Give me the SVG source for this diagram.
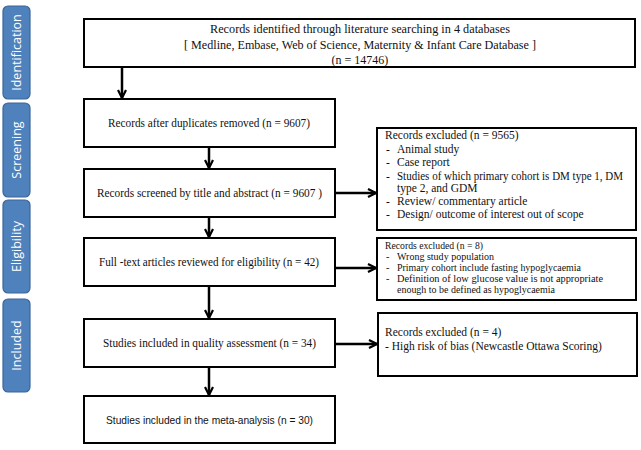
<svg xmlns="http://www.w3.org/2000/svg" width="641" height="450" viewBox="0 0 641 450">
<defs>
<style>
.phase{fill:#4F81BD;stroke:#3B6699;stroke-width:1.2}
.ph{fill:#fff;font-family:"Open Sans","Liberation Sans",sans-serif;font-size:12.5px;text-anchor:middle}
.box{fill:#fff;stroke:#000;stroke-width:2}
.t{font-family:"Liberation Serif",serif;font-size:12px;fill:#111}
.c{text-anchor:middle}
.s{font-family:"Liberation Sans",sans-serif;font-size:11px;fill:#111}
.r{font-family:"Liberation Serif",serif;font-size:11.5px;fill:#111}
.r2{font-family:"Liberation Serif",serif;font-size:10.3px;fill:#111}
.con{stroke:#000;stroke-width:2.5;fill:none}
</style>
<marker id="ah" viewBox="0 0 10 10" refX="9" refY="5" markerWidth="4" markerHeight="4" orient="auto" markerUnits="strokeWidth">
<path d="M1,1 L9,5 L1,9" fill="none" stroke="#000" stroke-width="2.2"/>
</marker>
</defs>
<rect width="641" height="450" fill="#fff"/>

<g id="phase-identification"><rect class="phase" x="3" y="6" width="27" height="93" rx="5"/><text class="ph" transform="translate(21,52.5) rotate(-90)">Identification</text></g>
<g id="phase-screening"><rect class="phase" x="3" y="103" width="27" height="94" rx="5"/><text class="ph" transform="translate(21,150) rotate(-90)">Screening</text></g>
<g id="phase-eligibility"><rect class="phase" x="3" y="200" width="27" height="93" rx="5"/><text class="ph" transform="translate(21,246.5) rotate(-90)">Eligibility</text></g>
<g id="phase-included"><rect class="phase" x="3" y="299" width="27" height="93" rx="5"/><text class="ph" transform="translate(21,345.5) rotate(-90)">Included</text></g>

<g id="connectors">
<line class="con" x1="122" y1="67" x2="122" y2="98" marker-end="url(#ah)"/>
<line class="con" x1="209" y1="147" x2="209" y2="168" marker-end="url(#ah)"/>
<line class="con" x1="209" y1="217" x2="209" y2="237" marker-end="url(#ah)"/>
<line class="con" x1="209" y1="286" x2="209" y2="318" marker-end="url(#ah)"/>
<line class="con" x1="209" y1="367" x2="209" y2="395" marker-end="url(#ah)"/>
<line class="con" x1="335" y1="193" x2="376" y2="193" marker-end="url(#ah)"/>
<line class="con" x1="335" y1="268" x2="376" y2="268" marker-end="url(#ah)"/>
<line class="con" x1="335" y1="344" x2="377" y2="344" marker-end="url(#ah)"/>
</g>

<g id="identified">
<rect class="box" x="84" y="19" width="551" height="48"/>
<text class="t c" x="360" y="33" textLength="300" lengthAdjust="spacingAndGlyphs">Records identified through literature searching in 4 databases</text>
<text class="t c" x="360" y="49" textLength="352" lengthAdjust="spacingAndGlyphs">[ Medline, Embase, Web of Science, Maternity &amp; Infant Care Database ]</text>
<text class="t c" x="360" y="64">(n = 14746)</text>
</g>

<g id="duplicates">
<rect class="box" x="84" y="99" width="251" height="48"/>
<text class="t c" x="209" y="127" textLength="202" lengthAdjust="spacingAndGlyphs">Records after duplicates removed (n = 9607)</text>
</g>

<g id="screened">
<rect class="box" x="84" y="169" width="251" height="48"/>
<text class="t c" x="209.5" y="197" textLength="225" lengthAdjust="spacingAndGlyphs">Records screened by title and abstract (n = 9607 )</text>
</g>

<g id="fulltext">
<rect class="box" x="84" y="238" width="251" height="48"/>
<text class="t c" x="209" y="266" textLength="220" lengthAdjust="spacingAndGlyphs">Full -text articles reviewed for eligibility (n = 42)</text>
</g>

<g id="quality">
<rect class="box" x="84" y="319" width="251" height="48"/>
<text class="t c" x="209.5" y="347" textLength="213" lengthAdjust="spacingAndGlyphs">Studies included in quality assessment (n = 34)</text>
</g>

<g id="meta">
<rect class="box" x="84" y="396" width="251" height="47"/>
<text class="s c" x="209.5" y="424" textLength="207" lengthAdjust="spacingAndGlyphs">Studies included in the meta-analysis (n = 30)</text>
</g>

<g id="excluded-1">
<rect class="box" x="377" y="128" width="259" height="102"/>
<text class="r" x="385" y="139">Records excluded (n = 9565)</text>
<text class="r" x="386" y="153">-</text><text class="r" x="397" y="153">Animal study</text>
<text class="r" x="386" y="166">-</text><text class="r" x="397" y="166">Case report</text>
<text class="r" x="386" y="180">-</text><text class="r" x="397" y="180" textLength="226" lengthAdjust="spacingAndGlyphs">Studies of which primary cohort  is DM type 1, DM</text>
<text class="r" x="397" y="192">type 2, and GDM</text>
<text class="r" x="386" y="205">-</text><text class="r" x="397" y="205">Review/ commentary article</text>
<text class="r" x="386" y="218">-</text><text class="r" x="397" y="218">Design/ outcome of interest out of scope</text>
</g>

<g id="excluded-2">
<rect class="box" x="377" y="238" width="259" height="62"/>
<text class="r2" x="385" y="248.5" textLength="98" lengthAdjust="spacingAndGlyphs">Records excluded (n = 8)</text>
<text class="r2" x="386" y="259.5">-</text><text class="r2" x="397" y="259.5" textLength="97" lengthAdjust="spacingAndGlyphs">Wrong study population</text>
<text class="r2" x="386" y="270.5">-</text><text class="r2" x="397" y="270.5" textLength="184" lengthAdjust="spacingAndGlyphs">Primary cohort include fasting hypoglycaemia</text>
<text class="r2" x="386" y="281.5">-</text><text class="r2" x="397" y="281.5" textLength="206" lengthAdjust="spacingAndGlyphs">Definition of low glucose value is not appropriate</text>
<text class="r2" x="397" y="292.5" textLength="158" lengthAdjust="spacingAndGlyphs">enough to be defined as hypoglycaemia</text>
</g>

<g id="excluded-3">
<rect class="box" x="378" y="313" width="259" height="63"/>
<text class="r" x="385" y="336">Records excluded (n = 4)</text>
<text class="r" x="385" y="350">- High risk of bias (Newcastle Ottawa Scoring)</text>
</g>
</svg>
